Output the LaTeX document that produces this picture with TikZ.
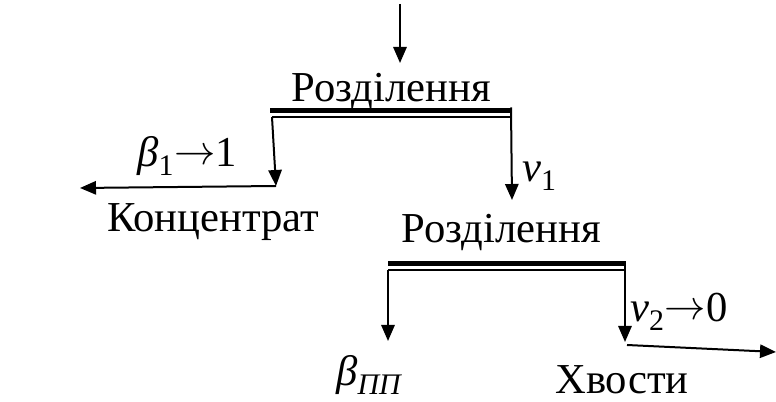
\documentclass[tikz,border=0pt]{standalone}
\usepackage{fontspec}
\usepackage{graphicx}
\setmainfont{Liberation Serif}
\usetikzlibrary{arrows.meta}
\tikzset{
  flow/.style={line width=1.5pt,-{Triangle[length=12pt,width=10pt]}},
  thinbar/.style={line width=1.2pt},
  thickbar/.style={line width=3.8pt},
  lbl/.style={inner sep=0pt,font=\fontsize{32pt}{36pt}\selectfont}
}
\newcommand{\arr}{\raisebox{1.5pt}{\resizebox{31pt}{!}{$\rightarrow$}}}
\begin{document}
\begin{tikzpicture}[x=0.75pt,y=-0.75pt]
\useasboundingbox (0,0) rectangle (776,402);
% top feed
\coordinate (feed) at (400,4);
\node[lbl,anchor=base] (r1) at (391,102) {Розділення};
\coordinate (r1in) at (400,63);
\draw[flow] (feed) -- (r1in);
% bar 1
\coordinate (b1l) at (270,110.5);
\coordinate (b1r) at (511,110.5);
\coordinate (t1l) at (272,117);
\coordinate (t1r) at (511,117);
\draw[thickbar] (b1l) -- (b1r);
\draw[thinbar] (t1l) -- (t1r);
\coordinate (c1) at (276,186);
\draw[flow] (t1l) -- (c1);
\coordinate (conc) at (80,188);
\draw[flow] (c1) -- (conc);
\node[lbl,anchor=base west] (beta1) at (137,167) {\itshape β\/\textsubscript{\upshape 1}\upshape\arr 1};
\node[lbl,anchor=base west] (kon) at (107,232) {Концентрат};
\coordinate (b1rtop) at (511,107.5);
\coordinate (v1end) at (512,200);
\draw[flow] (b1rtop) -- (v1end);
\node[lbl,anchor=base west] (nu1) at (522,182) {\itshape v\textsubscript{\upshape 1}};
% second separation
\node[lbl,anchor=base] (r2) at (501,243) {Розділення};
\coordinate (b2l) at (388,263.5);
\coordinate (b2r) at (626,263.5);
\coordinate (t2l) at (388,270);
\coordinate (t2r) at (626,270);
\draw[thickbar] (b2l) -- (b2r);
\draw[thinbar] (t2l) -- (t2r);
\coordinate (d2l) at (388,341);
\draw[flow] (t2l) -- (d2l);
\coordinate (b2rtop) at (625,262);
\coordinate (d2r) at (625,342);
\draw[flow] (b2rtop) -- (d2r);
\coordinate (tailstart) at (627,345);
\coordinate (tailend) at (776,352);
\draw[flow] (tailstart) -- (tailend);
\node[lbl,anchor=base west] (nu2) at (630,322) {\itshape v\textsubscript{\upshape 2}\upshape\arr 0};
\node[lbl,anchor=base west] (betapp) at (336,386) {\itshape β\textsubscript{ПП}};
\node[lbl,anchor=base west] (xv) at (555,394) {Хвости};
\end{tikzpicture}
\end{document}
